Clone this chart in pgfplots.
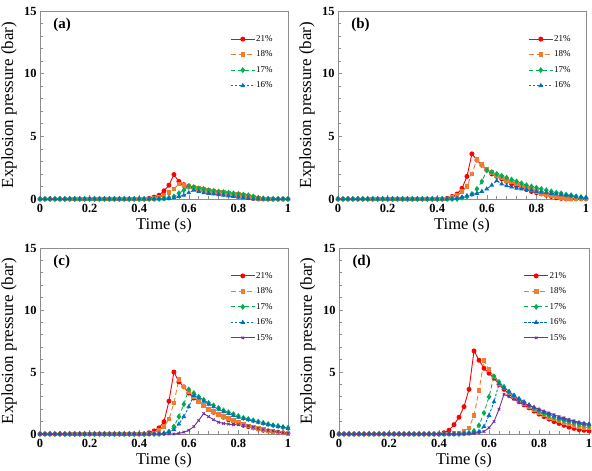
\documentclass[border=0pt]{standalone}
\usepackage{fontspec}
\setmainfont{Liberation Serif}
\usepackage{pgfplots}
\usepackage{pgfplotstable}
\pgfplotsset{compat=1.18}

\definecolor{cR}{HTML}{FF0000}
\definecolor{cO}{HTML}{ED7D31}
\definecolor{cG}{HTML}{00B050}
\definecolor{cB}{HTML}{0070C0}
\definecolor{cP}{HTML}{7030A0}
\definecolor{frame}{HTML}{8C8C8C}

\pgfplotstableread{
t r21 r18 r17 r16
0.00 0 0 0 0
0.02 0 0 0 0
0.04 0 0 0 0
0.06 0 0 0 0
0.08 0 0 0 0
0.10 0 0 0 0
0.12 0 0 0 0
0.14 0 0 0 0
0.16 0 0 0 0
0.18 0 0 0 0
0.20 0 0 0 0
0.22 0 0 0 0
0.24 0 0 0 0
0.26 0 0 0 0
0.28 0 0 0 0
0.30 0 0 0 0
0.32 0 0 0 0
0.34 0 0 0 0
0.36 0 0 0 0
0.38 0 0 0 0
0.40 0 0 0 0
0.42 0 0 0 0
0.44 0.05 0 0 0
0.46 0.15 0.05 0 0
0.48 0.3 0.1 0 0
0.50 0.65 0.3 0.05 0
0.52 1.1 0.5 0.1 0.05
0.54 1.95 0.8 0.2 0.1
0.56 1.4 1.2 0.45 0.2
0.58 1.15 1.1 0.7 0.3
0.60 0.95 1.0 1.05 0.5
0.62 0.85 0.9 0.95 0.7
0.64 0.75 0.85 0.85 0.6
0.66 0.65 0.75 0.8 0.5
0.68 0.55 0.68 0.7 0.45
0.70 0.5 0.6 0.65 0.4
0.72 0.45 0.55 0.6 0.35
0.74 0.4 0.5 0.55 0.3
0.76 0.35 0.45 0.5 0.25
0.78 0.3 0.4 0.45 0.2
0.80 0.25 0.35 0.4 0.15
0.82 0.2 0.28 0.35 0.1
0.84 0.1 0.2 0.3 0.05
0.86 0.05 0.1 0.2 0
0.88 0 0.05 0.1 0
0.90 0 0 0.05 0
0.92 0 0 0 0
0.94 0 0 0 0
0.96 0 0 0 0
0.98 0 0 0 0
1.00 0 0 0 0
}\tabA

\pgfplotstableread{
t r21 r18 r17 r16
0.00 0 0 0 0
0.02 0 0 0 0
0.04 0 0 0 0
0.06 0 0 0 0
0.08 0 0 0 0
0.10 0 0 0 0
0.12 0 0 0 0
0.14 0 0 0 0
0.16 0 0 0 0
0.18 0 0 0 0
0.20 0 0 0 0
0.22 0 0 0 0
0.24 0 0 0 0
0.26 0 0 0 0
0.28 0 0 0 0
0.30 0 0 0 0
0.32 0 0 0 0
0.34 0 0 0 0
0.36 0 0 0 0
0.38 0 0 0 0
0.40 0 0 0 0
0.42 0 0 0 0
0.44 0.05 0 0 0
0.46 0.2 0.1 0 0
0.48 0.4 0.3 0 0.05
0.50 0.85 0.6 0.1 0.15
0.52 1.8 1.0 0.2 0.25
0.54 3.6 2.0 0.4 0.35
0.56 3.1 3.15 0.8 0.45
0.58 2.7 2.75 1.4 0.6
0.60 2.3 2.35 2.3 0.8
0.62 2.0 2.1 2.15 1.1
0.64 1.8 1.9 2.0 1.45
0.66 1.6 1.7 1.85 1.2
0.68 1.4 1.5 1.7 1.05
0.70 1.2 1.35 1.55 0.95
0.72 1.05 1.2 1.4 0.85
0.74 0.9 1.05 1.25 0.8
0.76 0.75 0.9 1.1 0.75
0.78 0.6 0.75 1.0 0.7
0.80 0.5 0.6 0.9 0.6
0.82 0.4 0.45 0.8 0.55
0.84 0.3 0.35 0.7 0.5
0.86 0.2 0.25 0.6 0.45
0.88 0.1 0.15 0.5 0.4
0.90 0.05 0.1 0.45 0.35
0.92 0 0.05 0.35 0.3
0.94 0 0 0.3 0.25
0.96 0 0 0.2 0.2
0.98 0 0 0.15 0.15
1.00 0 0 0.1 0.1
}\tabB

\pgfplotstableread{
t r21 r18 r17 r16 r15
0.00 0 0 0 0 0
0.02 0 0 0 0 0
0.04 0 0 0 0 0
0.06 0 0 0 0 0
0.08 0 0 0 0 0
0.10 0 0 0 0 0
0.12 0 0 0 0 0
0.14 0 0 0 0 0
0.16 0 0 0 0 0
0.18 0 0 0 0 0
0.20 0 0 0 0 0
0.22 0 0 0 0 0
0.24 0 0 0 0 0
0.26 0 0 0 0 0
0.28 0 0 0 0 0
0.30 0 0 0 0 0
0.32 0 0 0 0 0
0.34 0 0 0 0 0
0.36 0 0 0 0 0
0.38 0 0 0 0 0
0.40 0 0 0 0 0
0.42 0 0 0 0 0
0.44 0.1 0 0 0 0
0.46 0.25 0.1 0 0 0
0.48 0.5 0.3 0 0 0
0.50 1.0 0.6 0.05 0.05 0
0.52 2.65 1.2 0.2 0.15 0
0.54 5.0 2.5 0.6 0.35 0
0.56 4.2 4.4 1.4 0.8 0.05
0.58 3.8 3.8 2.4 1.4 0.15
0.60 3.3 3.4 3.6 2.2 0.3
0.62 2.9 3.0 3.3 3.1 0.6
0.64 2.6 2.6 3.0 2.9 1.1
0.66 2.3 2.3 2.75 2.65 1.65
0.68 2.0 2.0 2.5 2.4 1.4
0.70 1.75 1.8 2.3 2.2 1.15
0.72 1.55 1.6 2.1 2.0 0.95
0.74 1.35 1.4 1.9 1.8 0.85
0.76 1.15 1.25 1.75 1.65 0.8
0.78 1.0 1.1 1.6 1.5 0.75
0.80 0.85 0.95 1.45 1.35 0.75
0.82 0.7 0.8 1.3 1.25 0.7
0.84 0.6 0.65 1.2 1.15 0.65
0.86 0.5 0.55 1.1 1.05 0.55
0.88 0.4 0.45 1.0 0.95 0.45
0.90 0.3 0.35 0.9 0.85 0.35
0.92 0.25 0.25 0.8 0.75 0.3
0.94 0.2 0.2 0.7 0.7 0.25
0.96 0.15 0.15 0.65 0.6 0.2
0.98 0.1 0.1 0.55 0.55 0.1
1.00 0.05 0.05 0.5 0.45 0.05
}\tabC

\pgfplotstableread{
t r21 r18 r17 r16 r15
0.00 0 0 0 0 0
0.02 0 0 0 0 0
0.04 0 0 0 0 0
0.06 0 0 0 0 0
0.08 0 0 0 0 0
0.10 0 0 0 0 0
0.12 0 0 0 0 0
0.14 0 0 0 0 0
0.16 0 0 0 0 0
0.18 0 0 0 0 0
0.20 0 0 0 0 0
0.22 0 0 0 0 0
0.24 0 0 0 0 0
0.26 0 0 0 0 0
0.28 0 0 0 0 0
0.30 0 0 0 0 0
0.32 0 0 0 0 0
0.34 0 0 0 0 0
0.36 0 0 0 0 0
0.38 0 0 0 0 0
0.40 0 0 0 0 0
0.42 0.1 0 0 0 0
0.44 0.3 0 0 0 0
0.46 0.75 0.05 0 0 0
0.48 1.35 0.1 0 0 0
0.50 2.2 0.2 0.05 0 0
0.52 3.6 0.5 0.1 0.05 0
0.54 6.7 1.5 0.25 0.1 0.05
0.56 5.95 3.5 0.7 0.2 0.1
0.58 5.3 5.95 1.7 0.6 0.2
0.60 4.9 5.2 3.0 1.5 0.5
0.62 4.5 4.6 4.65 2.6 1.0
0.64 4.0 4.1 4.2 4.05 2.0
0.66 3.6 3.7 3.8 3.7 3.2
0.68 3.2 3.3 3.4 3.4 3.0
0.70 2.9 3.0 3.1 3.1 2.8
0.72 2.6 2.7 2.8 2.85 2.6
0.74 2.35 2.45 2.5 2.6 2.45
0.76 2.1 2.2 2.3 2.35 2.3
0.78 1.85 1.95 2.05 2.15 2.15
0.80 1.6 1.75 1.85 1.95 2.0
0.82 1.4 1.55 1.65 1.75 1.85
0.84 1.2 1.35 1.5 1.6 1.7
0.86 1.0 1.2 1.35 1.45 1.55
0.88 0.85 1.05 1.2 1.3 1.4
0.90 0.7 0.9 1.1 1.2 1.3
0.92 0.55 0.8 1.0 1.1 1.15
0.94 0.45 0.7 0.9 1.0 1.05
0.96 0.35 0.6 0.8 0.9 0.95
0.98 0.3 0.55 0.75 0.85 0.85
1.00 0.25 0.5 0.7 0.8 0.8
}\tabD

\pgfplotsset{
  panel/.style={
    scale only axis, width=248bp, height=188bp,
    xmin=0, xmax=1, ymin=0, ymax=15,
    xtick={0,0.2,0.4,0.6,0.8,1}, ytick={0,5,10,15},
    minor x tick num=4, minor y tick num=4,
    xtick pos=bottom, ytick pos=left, tick align=inside,
    major tick length=4bp, minor tick length=2.5bp,
    axis line style={frame, line width=0.8bp},
    tick style={frame, line width=0.6bp},
    /pgf/number format/assume math mode=true,
    ticklabel style={font=\bfseries\fontsize{12.5}{12.5}\selectfont},
    xticklabel style={yshift=-2bp},
    xlabel={Time (s)}, ylabel={Explosion pressure (bar)},
    xlabel style={font=\fontsize{16.5}{16.5}\selectfont, at={(axis description cs:0.5,-0.142)}, anchor=center},
    ylabel style={font=\fontsize{17}{17}\selectfont, at={(axis description cs:-0.125,0.5)}, anchor=center},
    clip=false,
    legend cell align=left,
    legend style={draw=none, fill=none, font=\fontsize{9}{9}\selectfont,
      nodes={text height=6.5bp, text depth=2bp, inner sep=1bp}, row sep=5bp,
      anchor=north east},
    legend image code/.code={\draw[mark repeat=2,mark phase=2] plot coordinates {(0bp,0bp) (12bp,0bp) (24bp,0bp)};},
  },
  s21/.style={cR, line width=0.9bp, solid, mark=*, mark size=2bp, mark options={solid, fill=cR}},
  s18/.style={cO, line width=0.9bp, dash pattern=on 5bp off 3bp, mark=square*, mark size=1.8bp, mark options={solid, fill=cO}},
  s17/.style={cG, line width=0.9bp, dash pattern=on 4bp off 3bp, mark=diamond*, mark size=2.3bp, mark options={solid, fill=cG}},
  s16/.style={cB, line width=0.9bp, dash pattern=on 2.5bp off 1.5bp, mark=triangle*, mark size=1.9bp, mark options={solid, fill=cB}},
  s15/.style={cP, line width=0.9bp, solid, mark=x, mark size=1.8bp, mark options={solid}},
}

\begin{document}
\begin{tikzpicture}
\useasboundingbox (0,0) rectangle (592bp,471bp);

% (a)
\begin{axis}[panel, at={(40bp,272bp)}, anchor=south west,
  legend style={at={(axis description cs:0.955,0.89)}}]
\addplot[s21] table[x=t,y=r21] {\tabA};
\addplot[s18] table[x=t,y=r18] {\tabA};
\addplot[s17] table[x=t,y=r17] {\tabA};
\addplot[s16] table[x=t,y=r16] {\tabA};
\legend{21\%,18\%,17\%,16\%}
\node[font=\bfseries\fontsize{15}{15}\selectfont, anchor=west] at (axis description cs:0.04,0.925) {(a)};
\end{axis}

% (b)
\begin{axis}[panel, at={(338bp,272bp)}, anchor=south west,
  legend style={at={(axis description cs:0.955,0.89)}}]
\addplot[s21] table[x=t,y=r21] {\tabB};
\addplot[s18] table[x=t,y=r18] {\tabB};
\addplot[s17] table[x=t,y=r17] {\tabB};
\addplot[s16] table[x=t,y=r16] {\tabB};
\legend{21\%,18\%,17\%,16\%}
\node[font=\bfseries\fontsize{15}{15}\selectfont, anchor=west] at (axis description cs:0.04,0.925) {(b)};
\end{axis}

% (c)
\begin{axis}[panel, at={(40bp,37bp)}, anchor=south west, height=186bp,
  legend style={at={(axis description cs:0.955,0.89)}}]
\addplot[s21] table[x=t,y=r21] {\tabC};
\addplot[s18] table[x=t,y=r18] {\tabC};
\addplot[s17] table[x=t,y=r17] {\tabC};
\addplot[s16] table[x=t,y=r16] {\tabC};
\addplot[s15] table[x=t,y=r15] {\tabC};
\legend{21\%,18\%,17\%,16\%,15\%}
\node[font=\bfseries\fontsize{15}{15}\selectfont, anchor=west] at (axis description cs:0.04,0.925) {(c)};
\end{axis}

% (d)
\begin{axis}[panel, at={(339bp,37bp)}, anchor=south west, width=250bp, height=186bp,
  legend style={at={(axis description cs:0.925,0.89)}}]
\addplot[s21] table[x=t,y=r21] {\tabD};
\addplot[s18] table[x=t,y=r18] {\tabD};
\addplot[s17] table[x=t,y=r17] {\tabD};
\addplot[s16] table[x=t,y=r16] {\tabD};
\addplot[s15] table[x=t,y=r15] {\tabD};
\legend{21\%,18\%,17\%,16\%,15\%}
\node[font=\bfseries\fontsize{15}{15}\selectfont, anchor=west] at (axis description cs:0.04,0.925) {(d)};
\end{axis}
\end{tikzpicture}
\end{document}
